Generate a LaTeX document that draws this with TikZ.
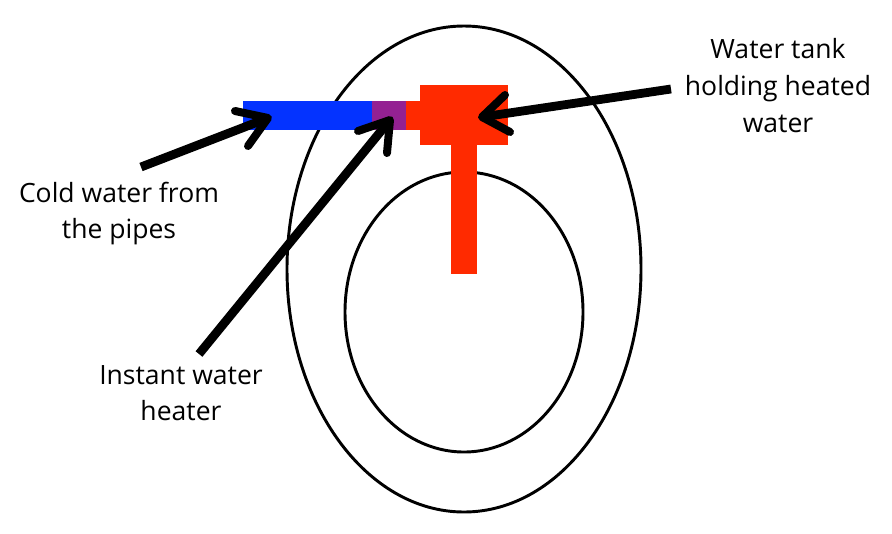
\documentclass[tikz,border=0pt]{standalone}
\usepackage{fontspec}
\setmainfont{Open Sans}
\definecolor{cblue}{HTML}{0433FF}
\definecolor{cred}{HTML}{FF2A00}
\definecolor{cpurple}{HTML}{942192}
\tikzset{
  ring/.style={draw=black,line width=2.2pt,fill=none},
  pointer/.style={line width=6.6pt,draw=black},
  pointerhead/.style={line width=6pt,draw=black,line cap=round,line join=round},
  label/.style={font=\fontsize{19.9pt}{27.5pt}\selectfont,align=center,text=black,inner sep=0pt},
}
\begin{document}
\begin{tikzpicture}[x=0.75pt,y=-0.75pt]
\useasboundingbox (0,0) rectangle (892,533);
\fill[white] (0,0) rectangle (892,533);
\draw[ring] (464,269) ellipse [x radius=177,y radius=243];
\draw[ring] (464,312) ellipse [x radius=119,y radius=140];
\fill[cblue] (243,101) rectangle (372,130);
\fill[cpurple] (372,101) rectangle (406,130);
\fill[cred] (406,101) rectangle (421,130);
\fill[cred] (420,85) rectangle (507.5,144.5);
\fill[cred] (451,144) rectangle (477,274);
\coordinate (a1s) at (141,167);
\coordinate (a1e) at (268,118);
\coordinate (a2s) at (199,354);
\coordinate (a2e) at (390,120);
\coordinate (a3s) at (671,89);
\coordinate (a3e) at (482,117);
\draw[pointer] (a1s) -- (a1e);
\draw[pointerhead] (235,111) -- (a1e) -- (248,146);
\draw[pointer] (a2s) -- (a2e);
\draw[pointerhead] (358,131) -- (a2e) -- (387,153);
\draw[pointer] (a3s) -- (a3e);
\draw[pointerhead] (505,95) -- (a3e) -- (510,132);
\node[label] (cold) at (119,213.5) {Cold water from\\the pipes};
\node[label] (inst) at (181,393) {Instant water\\heater};
\node[label] (tank) at (778,85.7) {Water tank\\holding heated\\water};
\end{tikzpicture}
\end{document}
